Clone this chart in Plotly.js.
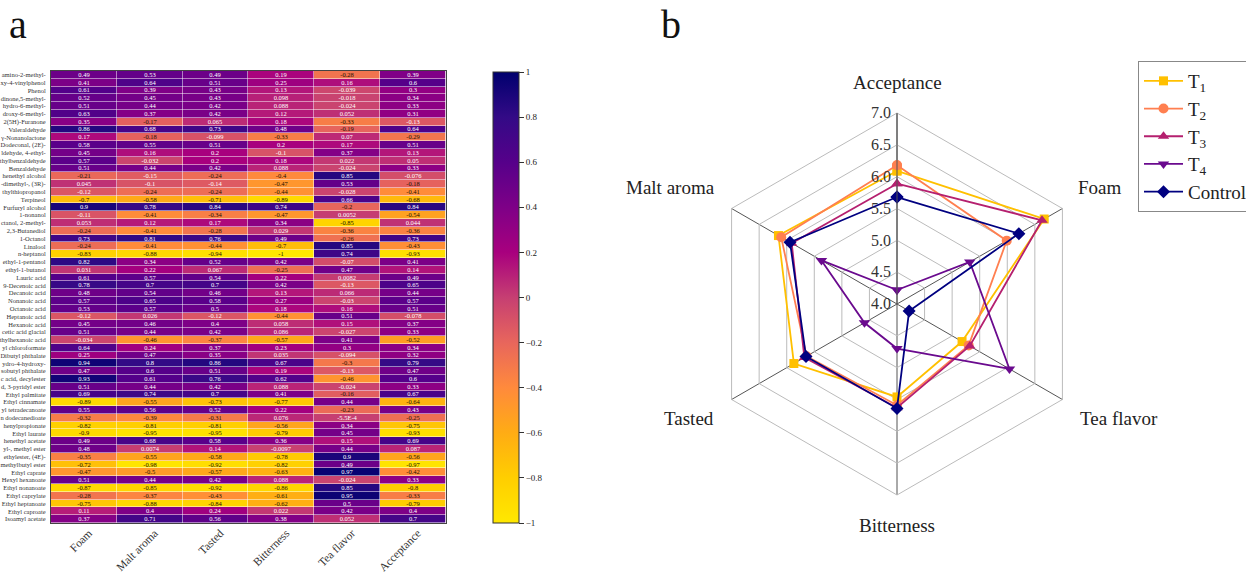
<!DOCTYPE html>
<html><head><meta charset="utf-8">
<script src="https://cdn.plot.ly/plotly-3.0.1.min.js"></script>
<style>html,body{margin:0;padding:0;background:#fff;overflow:hidden;width:1246px;height:575px}#g{width:1262px;height:575px}</style>
</head><body><div id="g"></div>
<script>
const compounds=["amino-2-methyl-","xy-4-vinylphenol","Phenol","dinone,5-methyl-","hydro-6-methyl-","droxy-6-methyl-","2(5H)-Furanone","Valeraldehyde","γ-Nonanolactone","Dodeconal, (2E)-","ldehyde, 4-ethyl-","thylbenzaldehyde","Benzaldehyde","henethyl alcohol","-dimethyl-, (3R)-","thylthiopropanol","Terpineol","Furfuryl alcohol","1-nonanol","ctanol, 2-methyl-","2,3-Butanediol","1-Octanol","Linalool","n-heptanol","ethyl-1-pentanol","ethyl-1-butanol","Lauric acid","9-Decenoic acid","Decanoic acid","Nonanoic acid","Octanoic acid","Heptanoic acid","Hexanoic acid","cetic acid glacial","thylhexanoic acid","yl chloroformate","Dibutyl phthalate","ydro-4-hydroxy-","sobutyl phthalate","c acid, decylester","d, 3-pyridyl ester","Ethyl palmitate","Ethyl cinnamate","yl tetradecanoate","n dodecanedioate","henylpropionate","Ethyl laurate","henethyl acetate","yl-, methyl ester","ethylester, (4E)-","methylbutyl ester","Ethyl caprate","Hexyl hexanoate","Ethyl nonanoate","Ethyl caprylate","Ethyl heptanoate","Ethyl caproate","Isoamyl acetate"];
const heatColumns=["Foam","Malt aroma","Tasted","Bitterness","Tea flavor","Acceptance"];
const foam=[.49,.41,.61,.52,.51,.63,.35,.86,.17,.58,.45,.57,.51,-.21,.045,-.12,-.7,.9,-.11,.053,-.24,.73,-.24,-.83,.82,.031,.61,.78,.48,.57,.53,-.12,.45,.51,-.034,.64,.25,.94,.47,.93,.51,.69,-.89,.55,-.32,-.82,-.9,.49,.48,-.35,-.72,-.47,.51,-.87,-.28,-.75,.11,.37];
const maltAroma=[.53,.64,.39,.45,.44,.37,-.17,.68,-.18,.55,.16,-.032,.44,-.15,-.1,-.24,-.58,.78,-.41,.12,-.41,.81,-.41,-.88,.34,.22,.57,.7,.54,.65,.57,.026,.46,.44,-.46,.24,.47,.8,.6,.61,.44,.74,-.55,.56,-.39,-.81,-.95,.68,.0074,-.55,-.98,-.5,.44,-.85,-.37,-.88,.4,.71];
const tasted=[.49,.51,.43,.43,.42,.42,.065,.73,-.099,.51,.2,.2,.42,-.24,-.14,-.24,-.71,.84,-.34,.17,-.28,.76,-.44,-.94,.52,.067,.54,.7,.46,.58,.5,-.12,.4,.42,-.37,.37,.35,.86,.51,.76,.42,.7,-.73,.52,-.31,-.81,-.95,.58,.14,-.58,-.92,-.57,.42,-.92,-.43,-.84,.24,.56];
const bitterness=[.19,.25,.13,.098,.088,.12,.18,.48,-.33,.2,-.1,.18,.088,-.4,-.47,-.44,-.89,.74,-.47,.34,.029,.49,-.7,-1,.42,-.25,.22,.42,.13,.27,.18,-.44,.058,.086,-.57,.23,.035,.67,.19,.62,.088,.41,-.77,.22,.076,-.56,-.79,.36,-.0097,-.78,-.82,-.63,.088,-.86,-.61,-.62,.022,.38];
const teaFlavor=[-.28,.16,-.039,-.018,-.024,.052,-.33,-.19,.07,.17,.37,.022,-.024,.85,.53,-.028,.66,-.2,.0052,-.85,-.36,-.26,.85,.74,-.07,.47,.0082,-.13,.066,-.03,.16,.51,.15,-.027,.41,.3,-.094,-.3,-.13,-.46,-.024,-.16,.44,-.23,-.00055,.34,.45,.15,.44,.9,.49,.97,-.024,.85,.95,.5,.42,.052];
const acceptance=[.39,.6,.3,.34,.33,.31,-.13,.64,-.29,.51,.13,.05,.33,-.076,-.18,-.41,-.68,.84,-.54,.044,-.36,.73,-.43,-.93,.41,.14,.49,.65,.44,.57,.51,-.078,.37,.33,-.52,.34,.32,.79,.47,.6,.33,.67,-.64,.43,-.25,-.75,-.93,.69,.087,-.56,-.97,-.42,.33,-.8,-.33,-.79,.4,.7];

const radarAxes=["Acceptance","Foam","Tea flavor","Bitterness","Tasted","Malt aroma"];
const t1=[6.09,6.67,5.18,5.46,5.87,6.15];
const t2=[6.18,5.99,5.30,5.59,5.64,6.10];
const t3=[5.89,6.63,5.32,5.63,5.68,5.91];
const t4=[4.22,5.32,6.04,4.70,4.59,5.37];
const control=[5.68,6.21,4.22,5.64,5.65,5.94];

const W=1262,H=575;
const px=x=>x/W, py=y=>1-y/H;
const columns=[foam,maltAroma,tasted,bitterness,teaFlavor,acceptance];
const z=compounds.map((_,r)=>columns.map(c=>c[r]));
const fmt=v=>Math.abs(v)>0&&Math.abs(v)<0.001?v.toExponential(1).replace('e','E'):String(v);
const serif='"Liberation Serif","Times New Roman",serif';
const scale=[[0,'#FFE800'],[.1,'#FFCE00'],[.2,'#FFAC14'],[.3,'#FF8A3C'],[.4,'#E8665C'],[.5,'#C63F72'],[.6,'#A8007E'],[.7,'#7E0087'],[.8,'#56008A'],[.9,'#330A86'],[1,'#00006E']];

// dark cells carry light text, warm cells dark text
const isWarm=v=>v<-0.15;
const pick=test=>z.map(r=>r.map(v=>test(v)?v:null));
const label=test=>z.map(r=>r.map(v=>test(v)?fmt(v):''));
const heatBase=(test,color)=>({type:'heatmap',x:heatColumns,y:compounds,z:pick(test),text:label(test),texttemplate:'%{text}',
  textfont:{family:serif,size:6.5,color:color},zmin:-1,zmax:1,colorscale:scale,xgap:.5,ygap:.5,hoverongaps:false});
const heatCool=Object.assign(heatBase(v=>!isWarm(v),'#fff'),{
  colorbar:{x:px(493),xanchor:'left',xpad:0,y:py(72),yanchor:'top',ypad:0,lenmode:'pixels',len:451,thicknessmode:'pixels',thickness:26,
    tickmode:'linear',tick0:-1,dtick:.2,ticks:'outside',ticklen:5,tickcolor:'#333',tickwidth:1,outlinecolor:'#333',outlinewidth:1,
    tickfont:{family:serif,size:9,color:'#222'}}});
const heatWarm=Object.assign(heatBase(isWarm,'#221100'),{showscale:false});

const radar=(name,vals,color,symbol,size)=>({type:'scatterpolar',subplot:'polar',name:name,
  r:vals.concat(vals[0]),theta:radarAxes.concat(radarAxes[0]),mode:'lines+markers',cliponaxis:false,
  line:{color:color,width:1.8},marker:{color:color,symbol:symbol,size:size}});
const traces=[heatCool,heatWarm,
  radar('T<sub>1</sub>',t1,'#FFC000','square',9),
  radar('T<sub>2</sub>',t2,'#FF7F50','circle',10),
  radar('T<sub>3</sub>',t3,'#B5206F','triangle-up',10),
  radar('T<sub>4</sub>',t4,'#6A0A8E','triangle-down',10),
  radar('Control',control,'#000080','diamond',10)];

const radarLabel=(text,x,y)=>({text:text,xref:'paper',yref:'paper',x:px(x),y:py(y),xanchor:'center',yanchor:'middle',showarrow:false,font:{family:serif,size:19,color:'#222'}});
const panel=(text,x,y)=>({text:text,xref:'paper',yref:'paper',x:px(x),y:py(y),xanchor:'center',yanchor:'middle',showarrow:false,font:{family:serif,size:40,color:'#111'}});

const layout={width:W,height:H,margin:{l:0,r:0,t:0,b:0},paper_bgcolor:'#fff',plot_bgcolor:'#fff',showlegend:true,
  font:{family:serif},
  xaxis:{domain:[px(51),px(445.5)],anchor:'y',tickangle:-45,ticklabelshift:5,ticklabelstandoff:-2,tickfont:{family:serif,size:11.5,color:'#333'},ticks:'',showline:true,mirror:true,linecolor:'#444',linewidth:1,showgrid:false,zeroline:false},
  yaxis:{domain:[py(523),py(71)],anchor:'x',autorange:'reversed',tickmode:'linear',dtick:1,ticklabelstandoff:3,tickfont:{family:serif,size:6.5,color:'#333'},ticks:'',showline:true,mirror:true,linecolor:'#444',linewidth:1,showgrid:false,zeroline:false},
  polar:{domain:{x:[px(706),px(1088)],y:[py(495),py(113)]},bgcolor:'#fff',gridshape:'linear',
    angularaxis:{type:'category',categoryorder:'array',categoryarray:radarAxes,rotation:90,direction:'clockwise',showticklabels:false,ticks:'',showgrid:true,gridcolor:'#555',gridwidth:1,showline:true,linecolor:'#bbb',linewidth:1},
    radialaxis:{range:[4,7],angle:90,side:'counterclockwise',tickangle:90,tickmode:'linear',tick0:4,dtick:.5,tickformat:'.1f',ticks:'',showline:true,linecolor:'#555',linewidth:1,showgrid:true,gridcolor:'#bbb',gridwidth:1,tickfont:{family:serif,size:16,color:'#333'}}},
  legend:{x:px(1138),y:py(61),xanchor:'left',yanchor:'top',bgcolor:'#fff',bordercolor:'#888',borderwidth:1,font:{family:serif,size:19,color:'#222'},itemwidth:39,tracegroupgap:0},
  annotations:[panel('a',18,25),panel('b',671,25),
    radarLabel('Acceptance',897,82),radarLabel('Foam',1100,188),radarLabel('Tea flavor',1119,418),radarLabel('Bitterness',897,525),radarLabel('Tasted',689,418),radarLabel('Malt aroma',670,188)]};
Plotly.newPlot('g',traces,layout,{displayModeBar:false,responsive:false});
</script></body></html>
